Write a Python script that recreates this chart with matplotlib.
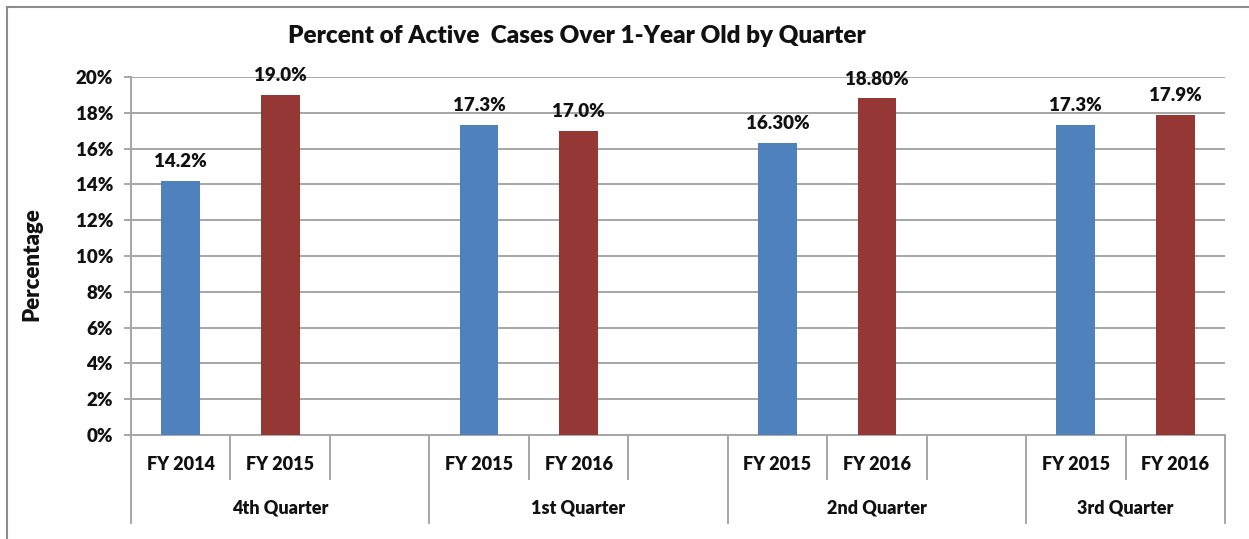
import matplotlib
matplotlib.use("Agg")
import matplotlib.pyplot as plt
import matplotlib.transforms as mtransforms
from matplotlib.lines import Line2D

# ---- data ----
quarters = ["4th Quarter", "1st Quarter", "2nd Quarter", "3rd Quarter"]
fiscal_years = [["FY 2014", "FY 2015"],
                ["FY 2015", "FY 2016"],
                ["FY 2015", "FY 2016"],
                ["FY 2015", "FY 2016"]]
earlier_year = [14.2, 17.3, 16.3, 17.3]
later_year = [19.0, 17.0, 18.8, 17.9]
earlier_labels = ["14.2%", "17.3%", "16.30%", "17.3%"]
later_labels = ["19.0%", "17.0%", "18.80%", "17.9%"]
y_ticks = [0, 2, 4, 6, 8, 10, 12, 14, 16, 18, 20]
title = "Percent of Active  Cases Over 1-Year Old by Quarter"
y_title = "Percentage"

# ---- style ----
plt.rcParams["font.family"] = ["Lato", "DejaVu Sans"]
WEIGHT = "heavy"
BLUE = "#4F81BD"
RED = "#953735"
GRID = "#a6a6a6"
TXT = "#111111"

W, H = 1249, 539
fig = plt.figure(figsize=(W / 100, H / 100), dpi=100)
fig.patch.set_facecolor("white")

left_px, right_px, top_px, base_px = 131, 1225, 77, 435
ax = fig.add_axes([left_px / W, (H - base_px) / H,
                   (right_px - left_px) / W, (base_px - top_px) / H])

# each quarter occupies 3 category slots (two bars + a gap), last one only 2
slot_starts = [3 * q for q in range(len(quarters))]
n_slots = slot_starts[-1] + len(fiscal_years[-1])
x_early = [s + 0.5 for s in slot_starts]
x_late = [s + 1.5 for s in slot_starts]

bw = 0.39
b1 = ax.bar(x_early, earlier_year, width=bw, color=BLUE, zorder=3)
b2 = ax.bar(x_late, later_year, width=bw, color=RED, zorder=3)

for bars, labels in ((b1, earlier_labels), (b2, later_labels)):
    for rect, lab in zip(bars, labels):
        ax.annotate(lab, (rect.get_x() + rect.get_width() / 2, rect.get_height()),
                    xytext=(0, 10), textcoords="offset points",
                    ha="center", va="baseline", fontsize=13.5,
                    fontweight=WEIGHT, color=TXT, zorder=4)

ax.set_xlim(0, n_slots)
ax.set_ylim(0, 20)
ax.set_yticks(y_ticks)
ax.set_yticklabels([f"{v}%" for v in y_ticks], fontweight=WEIGHT)
ax.set_xticks([])
ax.yaxis.grid(True, color=GRID, linewidth=1.4, zorder=0)
ax.set_axisbelow(True)
for side in ("top", "right"):
    ax.spines[side].set_visible(False)
for side in ("left", "bottom"):
    ax.spines[side].set_color(GRID)
    ax.spines[side].set_linewidth(1.4)
ax.tick_params(axis="y", direction="out", length=5, width=1.4,
               color=GRID, pad=8, labelsize=13.5, labelcolor=TXT)

# ---- two-level category axis ----
trans = mtransforms.blended_transform_factory(ax.transData, fig.transFigure)
short_y = (H - 479) / H
long_y = (H - 523) / H
base_y = (H - base_px) / H
group_edges = set(slot_starts + [n_slots])
for b in range(n_slots + 1):
    yb = long_y if b in group_edges else short_y
    fig.add_artist(Line2D([b, b], [base_y, yb], transform=trans,
                          color=GRID, linewidth=1.4))

for q, s in enumerate(slot_starts):
    for k, fy in enumerate(fiscal_years[q]):
        fig.text(s + k + 0.5, (H - 465) / H, fy, transform=trans,
                 ha="center", va="center", fontsize=13, fontweight=WEIGHT, color=TXT)
    n_in = 3 if q < len(quarters) - 1 else len(fiscal_years[q])
    fig.text(s + n_in / 2, (H - 508) / H, quarters[q], transform=trans,
             ha="center", va="center", fontsize=13, fontweight=WEIGHT, color=TXT)

# ---- titles ----
fig.text(577 / W, (H - 36) / H, title, ha="center", va="center",
         fontsize=17.5, fontweight=WEIGHT, color=TXT)
fig.text(32 / W, (H - 264) / H, y_title, rotation=90, ha="center", va="center",
         fontsize=16, fontweight=WEIGHT, color=TXT)

# ---- chart frame ----
frame_c = "#8c8c8c"
fig.add_artist(Line2D([7 / W, 1.0], [(H - 7) / H, (H - 7) / H],
                      transform=fig.transFigure, color=frame_c, linewidth=1.5))
fig.add_artist(Line2D([7 / W, 7 / W], [(H - 7) / H, 0.0],
                      transform=fig.transFigure, color=frame_c, linewidth=1.5))

fig.savefig("out.png", dpi=100, facecolor="white")
